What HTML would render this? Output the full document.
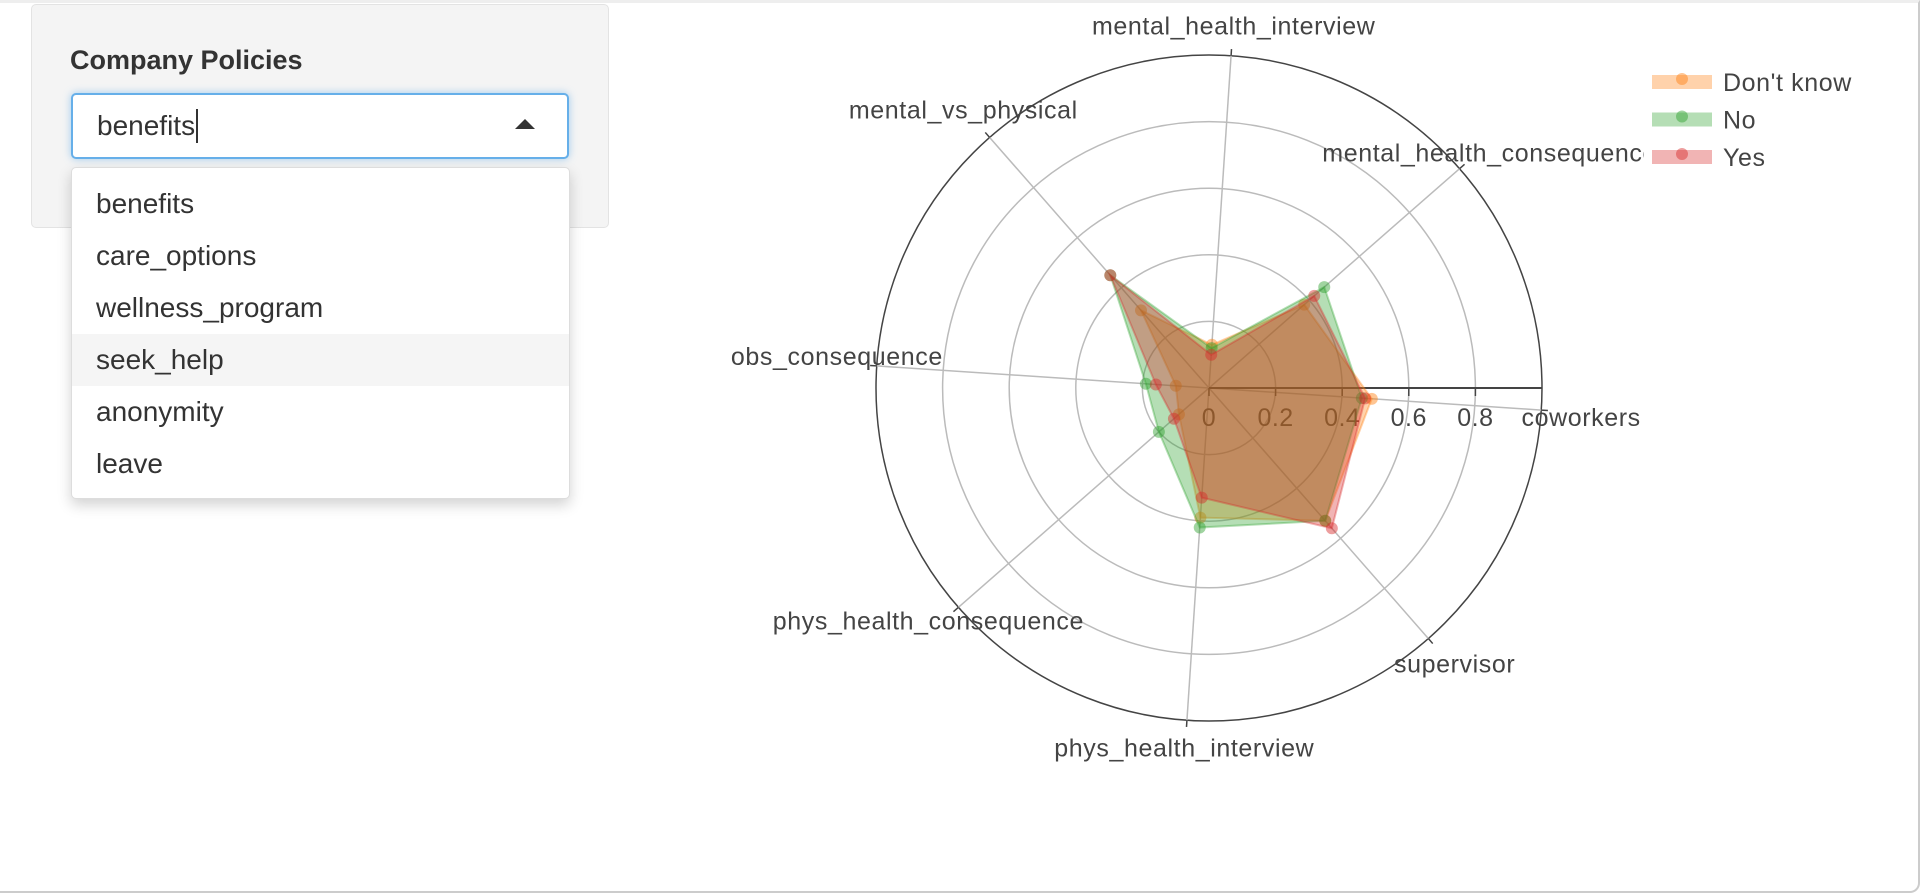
<!DOCTYPE html>
<html><head><meta charset="utf-8"><style>
body{margin:0;width:1924px;height:894px;background:#fff;font-family:"Liberation Sans",sans-serif;overflow:hidden;position:relative}
.frame{position:absolute;left:0;top:0;width:1918px;height:888px;border-right:2px solid #ccc;border-bottom:2px solid #ccc;border-top:3px solid #eee;border-radius:0 0 10px 0}
.well{position:absolute;left:31px;top:4px;width:576px;height:222px;background:#f4f4f4;border:1px solid #e3e3e3;border-radius:5px}
.lbl{position:absolute;left:70px;top:45px;font-weight:bold;font-size:27px;color:#333}
.inp{position:absolute;left:71px;top:93px;width:494px;height:62px;background:#fff;border:2px solid #66afe9;border-radius:5px;box-shadow:0 0 8px rgba(102,175,233,.6);font-size:28px;color:#333}
.inp span{position:absolute;left:24px;top:14px;border-right:2px solid #333;padding-right:1px;line-height:34px}
.arrow{position:absolute;left:442px;top:24px;border-left:10px solid transparent;border-right:10px solid transparent;border-bottom:10px solid #333}
.dd{position:absolute;left:71px;top:167px;width:497px;height:330px;background:#fff;border:1px solid #ddd;border-radius:5px;box-shadow:0 6px 14px rgba(0,0,0,.18)}
.item{position:absolute;left:0;width:497px;height:52px;font-size:28px;color:#333;line-height:52px;text-indent:24px}
</style></head><body>
<div class="frame"></div>
<div class="well"></div>
<div class="lbl">Company Policies</div>
<div class="inp"><span>benefits</span><div class="arrow"></div></div>
<div class="dd">
<div class="item" style="top:10px">benefits</div>
<div class="item" style="top:62px">care_options</div>
<div class="item" style="top:114px">wellness_program</div>
<div class="item" style="top:166px;background:#f5f5f5">seek_help</div>
<div class="item" style="top:218px">anonymity</div>
<div class="item" style="top:270px">leave</div>
</div>
<svg id="chart" width="1924" height="894" style="position:absolute;left:0;top:0"></svg>
<script>
const categories=["coworkers","mental_health_consequence","mental_health_interview","mental_vs_physical","obs_consequence","phys_health_consequence","phys_health_interview","supervisor"];
const dontKnow=[0.49,0.38,0.13,0.31,0.10,0.12,0.39,0.53];
const noVals=[0.46,0.46,0.12,0.45,0.19,0.20,0.42,0.53];
const yesVals=[0.47,0.42,0.10,0.45,0.16,0.14,0.33,0.56];
const seriesNames=["Don't know","No","Yes"];
const ticks=[0,0.2,0.4,0.6,0.8];
const cx=1209,cy=388,R=333,rot=-3.8;
const FONT='Liberation Sans, sans-serif';
const NS="http://www.w3.org/2000/svg";
const svg=document.getElementById('chart');
function mk(t,a,p){const e=document.createElementNS(NS,t);for(const k in a)e.setAttribute(k,a[k]);(p||svg).appendChild(e);return e;}
function ang(i){return (rot+i*360/categories.length)*Math.PI/180;}
function pt(v,i){const a=ang(i);return [cx+v*R*Math.cos(a),cy-v*R*Math.sin(a)];}
[0.2,0.4,0.6,0.8].forEach(t=>{const c=mk('circle',{cx:cx,cy:cy,r:t*R,fill:'none',stroke:'#bbb','stroke-width':1.5});
});
const oc=mk('circle',{cx:cx,cy:cy,r:R,fill:'none',stroke:'#444','stroke-width':1.5});

categories.forEach((c,i)=>{const [x,y]=pt(1,i);const l=mk('line',{x1:cx,y1:cy,x2:x,y2:y,stroke:'#bbb','stroke-width':1.5});

const [tx,ty]=pt(1.02,i);mk('line',{x1:x,y1:y,x2:tx,y2:ty,stroke:'#444','stroke-width':1.5});
const [lx,ly]=pt(1.12,i);const a=ang(i);
const off=7.5+10.5*Math.sin(a)+6.5*Math.cos(a);
const t=mk('text',{x:lx,y:ly+off,'font-size':25,fill:'#444','font-family':FONT,'text-anchor':'middle','letter-spacing':'0.6'});
t.textContent=c;});
const rl=mk('line',{x1:cx,y1:cy,x2:cx+R,y2:cy,stroke:'#444','stroke-width':2});

ticks.forEach(t=>{const x=cx+t*R;mk('line',{x1:x,y1:cy,x2:x,y2:cy+8,stroke:'#444','stroke-width':1.5});
const tt=mk('text',{x:x,y:cy+38,'font-size':25,fill:'#444','text-anchor':'middle','font-family':FONT,'letter-spacing':'0.5'});
tt.textContent=t;});
const colors=['#ff7f0e','#2ca02c','#d62728'];
const fills=['rgba(255,127,14,0.35)','rgba(44,160,44,0.35)','rgba(214,39,40,0.35)'];
const seriesLayer=mk('g',{});
const lb=mk('rect',{x:1644,y:55,width:270,height:125,fill:'#fff'});

[dontKnow,noVals,yesVals].forEach((vals,s)=>{
const pts=vals.map((v,i)=>pt(v,i));
const p=mk('polygon',{points:pts.map(q=>q.join(',')).join(' '),fill:fills[s],stroke:fills[s],'stroke-width':2},seriesLayer);

pts.forEach(q=>{const d=mk('circle',{cx:q[0],cy:q[1],r:6,fill:colors[s],'fill-opacity':0.45},seriesLayer);
});
const ly=82+s*37.5;
const sw=mk('rect',{x:1652,y:ly-7,width:60,height:14,fill:fills[s]});

mk('circle',{cx:1682,cy:ly-3,r:6,fill:colors[s],'fill-opacity':0.45});
const lt=mk('text',{x:1723,y:ly+9,'font-size':25,fill:'#444','font-family':FONT,'letter-spacing':'0.6'});
lt.textContent=seriesNames[s];
});
</script>
</body></html>
